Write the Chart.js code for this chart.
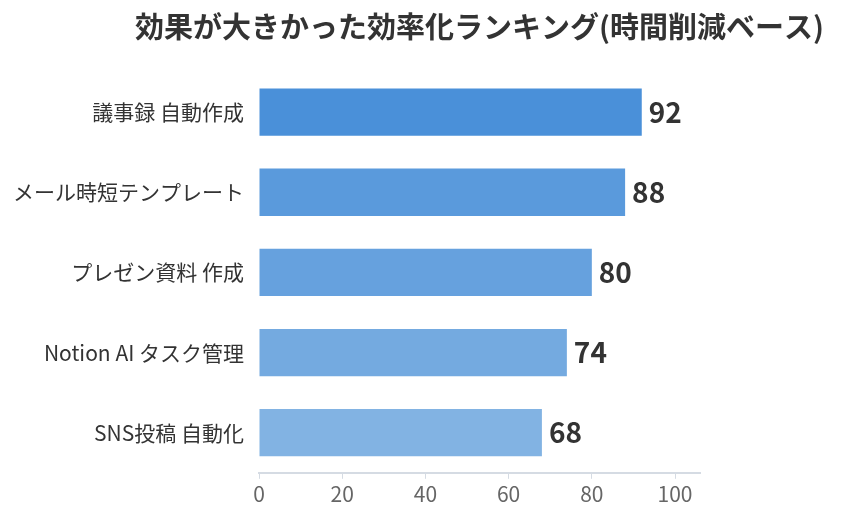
<!doctype html>
<html lang="ja">
<head>
<meta charset="utf-8">
<title>効果が大きかった効率化ランキング</title>
<style>
  html, body { margin: 0; padding: 0; background: #fff; }
  #wrap { width: 841px; height: 524px; position: relative; }
</style>
</head>
<body>
<div id="wrap"><canvas id="chart"></canvas></div>
<script src="https://cdn.jsdelivr.net/npm/chart.js"></script>
<script>
const title = '効果が大きかった効率化ランキング(時間削減ベース)'
const labels = ['議事録 自動作成', 'メール時短テンプレート', 'プレゼン資料 作成', 'Notion AI タスク管理', 'SNS投稿 自動化']
const hours = [92, 88, 80, 74, 68]
const barColors = ['#4a90d9', '#5a9adc', '#66a1de', '#74aae0', '#82b3e3']
const xTicks = [0, 20, 40, 60, 80, 100]

const FONT = '"Noto Sans CJK JP", "Noto Sans", sans-serif'

// numbers at the end of each bar
const valueLabels = {
  id: 'valueLabels',
  afterDatasetsDraw(chart) {
    const ctx = chart.ctx
    const meta = chart.getDatasetMeta(0)
    ctx.save()
    ctx.font = 'bold 28px ' + FONT
    ctx.fillStyle = '#333'
    ctx.textAlign = 'left'
    ctx.textBaseline = 'middle'
    meta.data.forEach((bar, i) => {
      ctx.fillText(String(hours[i]), bar.x + 7, bar.y)
    })
    ctx.restore()
  },
}

// title centred over the plot area, not squeezed to its width
const centeredTitle = {
  id: 'centeredTitle',
  afterDraw(chart) {
    const ctx = chart.ctx
    const area = chart.chartArea
    ctx.save()
    ctx.font = 'bold 29px ' + FONT
    ctx.fillStyle = '#333'
    ctx.textAlign = 'center'
    ctx.textBaseline = 'middle'
    ctx.fillText(title, (area.left + area.right) / 2, 27)
    ctx.restore()
  },
}

new Chart(document.getElementById('chart'), {
  type: 'bar',
  data: {
    labels: labels,
    datasets: [{
      data: hours,
      backgroundColor: barColors,
      borderWidth: 0,
      categoryPercentage: 1,
      barPercentage: 0.59,
    }],
  },
  plugins: [valueLabels, centeredTitle],
  options: {
    indexAxis: 'y',
    responsive: true,
    maintainAspectRatio: false,
    animation: false,
    layout: { padding: { left: 14, right: 141, top: 72, bottom: 14 } },
    plugins: {
      legend: { display: false },
      tooltip: { enabled: false },
      title: { display: false },
    },
    scales: {
      x: {
        min: 0,
        max: 106,
        afterBuildTicks(axis) {
          axis.ticks = xTicks.map((v) => ({ value: v }))
        },
        grid: { drawOnChartArea: false, drawTicks: true, tickLength: 6, color: '#d5dbe3' },
        border: { display: true, color: '#d5dbe3', width: 2 },
        ticks: { color: '#666', font: { family: FONT, size: 21 }, padding: 3 },
      },
      y: {
        afterFit(axis) {
          axis.width = 245
        },
        grid: { display: false },
        border: { display: false },
        ticks: { color: '#333', font: { family: FONT, size: 21 }, padding: 7 },
      },
    },
  },
})
</script>
</body>
</html>
